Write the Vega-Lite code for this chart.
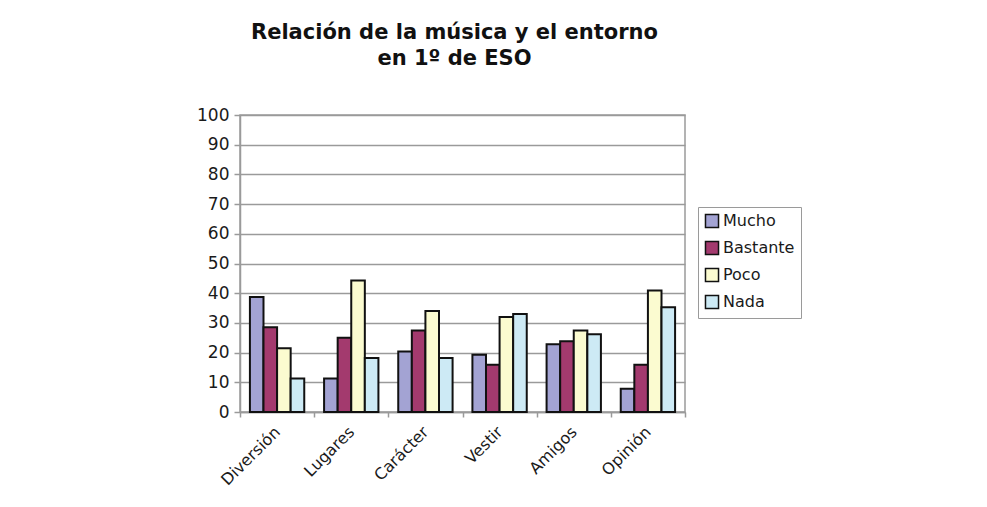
{
  "$schema": "https://vega.github.io/schema/vega-lite/v6.json",
  "width": 445,
  "height": 297,
  "autosize": {"type": "none"},
  "padding": {"left": 240, "top": 115, "right": 302, "bottom": 95},
  "background": "white",
  "title": {
    "text": ["Relación de la música y el entorno", "en 1º de ESO"],
    "font": "DejaVu Sans",
    "fontSize": 21,
    "fontWeight": "bold",
    "color": "#111111",
    "anchor": "middle",
    "dx": -8,
    "offset": 37,
    "lineHeight": 26
  },
  "config": {
    "font": "DejaVu Sans",
    "view": {"stroke": "#9a9a9a", "strokeWidth": 1.5}
  },
  "data": {
    "values": [
      {"tema": "Diversión", "grado": "Mucho", "valor": 38.7},
      {"tema": "Diversión", "grado": "Bastante", "valor": 28.5},
      {"tema": "Diversión", "grado": "Poco", "valor": 21.5},
      {"tema": "Diversión", "grado": "Nada", "valor": 11.3},
      {"tema": "Lugares", "grado": "Mucho", "valor": 11.3},
      {"tema": "Lugares", "grado": "Bastante", "valor": 25},
      {"tema": "Lugares", "grado": "Poco", "valor": 44.3},
      {"tema": "Lugares", "grado": "Nada", "valor": 18.2},
      {"tema": "Carácter", "grado": "Mucho", "valor": 20.4},
      {"tema": "Carácter", "grado": "Bastante", "valor": 27.4},
      {"tema": "Carácter", "grado": "Poco", "valor": 34},
      {"tema": "Carácter", "grado": "Nada", "valor": 18.2},
      {"tema": "Vestir", "grado": "Mucho", "valor": 19.3},
      {"tema": "Vestir", "grado": "Bastante", "valor": 15.9},
      {"tema": "Vestir", "grado": "Poco", "valor": 32},
      {"tema": "Vestir", "grado": "Nada", "valor": 33},
      {"tema": "Amigos", "grado": "Mucho", "valor": 22.8},
      {"tema": "Amigos", "grado": "Bastante", "valor": 23.8},
      {"tema": "Amigos", "grado": "Poco", "valor": 27.4},
      {"tema": "Amigos", "grado": "Nada", "valor": 26.2},
      {"tema": "Opinión", "grado": "Mucho", "valor": 7.8},
      {"tema": "Opinión", "grado": "Bastante", "valor": 15.9},
      {"tema": "Opinión", "grado": "Poco", "valor": 40.9},
      {"tema": "Opinión", "grado": "Nada", "valor": 35.3}
    ]
  },
  "mark": {"type": "bar", "stroke": "#111111", "strokeWidth": 2},
  "encoding": {
    "x": {
      "field": "tema",
      "type": "nominal",
      "sort": ["Diversión", "Lugares", "Carácter", "Vestir", "Amigos", "Opinión"],
      "scale": {"paddingInner": 0, "paddingOuter": 0},
      "axis": {
        "title": null,
        "labelAngle": -45,
        "labelAlign": "right",
        "labelBaseline": "middle",
        "labelFontSize": 16,
        "labelColor": "#1a1a1a",
        "labelPadding": 12,
        "tickBand": "extent",
        "tickSize": 5,
        "tickColor": "#9a9a9a",
        "tickWidth": 1.5,
        "domainColor": "#9a9a9a",
        "domainWidth": 1.5
      }
    },
    "xOffset": {
      "field": "grado",
      "type": "nominal",
      "sort": ["Mucho", "Bastante", "Poco", "Nada"],
      "scale": {"paddingInner": 0, "paddingOuter": 0.73}
    },
    "y": {
      "field": "valor",
      "type": "quantitative",
      "scale": {"domain": [0, 100], "nice": false},
      "axis": {
        "title": null,
        "values": [0, 10, 20, 30, 40, 50, 60, 70, 80, 90, 100],
        "labelFontSize": 17,
        "labelColor": "#1a1a1a",
        "labelPadding": 5,
        "tickSize": 6,
        "tickColor": "#9a9a9a",
        "tickWidth": 1.5,
        "domainColor": "#9a9a9a",
        "domainWidth": 1.5,
        "grid": true,
        "gridColor": "#9a9a9a",
        "gridWidth": 1.5
      }
    },
    "fill": {
      "field": "grado",
      "type": "nominal",
      "sort": ["Mucho", "Bastante", "Poco", "Nada"],
      "scale": {
        "domain": ["Mucho", "Bastante", "Poco", "Nada"],
        "range": ["#a3a3d3", "#a33a6e", "#fbfbd0", "#cdeaf5"]
      },
      "legend": {
        "title": null,
        "orient": "none",
        "legendX": 458,
        "legendY": 92,
        "symbolType": "square",
        "symbolSize": 170,
        "symbolStrokeColor": "#111111",
        "symbolStrokeWidth": 1.5,
        "labelFontSize": 16,
        "labelColor": "#1a1a1a",
        "labelOffset": 3,
        "rowPadding": 7,
        "padding": 6,
        "strokeColor": "#9a9a9a"
      }
    }
  }
}
